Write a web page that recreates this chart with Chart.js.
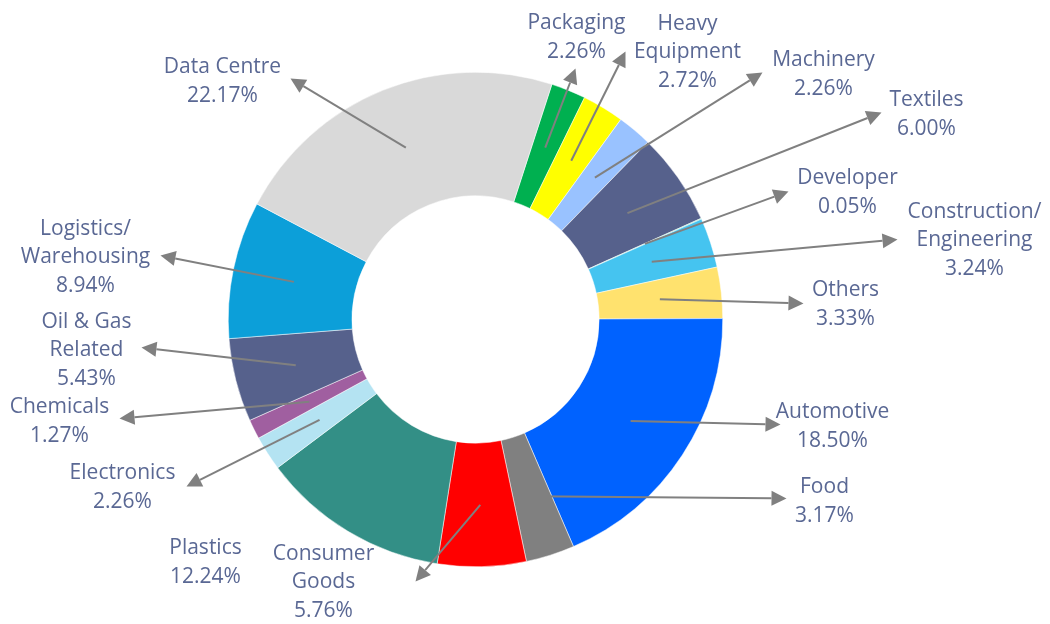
<!DOCTYPE html>
<html>
<head>
<meta charset="utf-8">
<script src="https://cdn.jsdelivr.net/npm/chart.js@4.4.1/dist/chart.umd.min.js"></script>
<style>
  html, body { margin: 0; padding: 0; background: #fff; }
</style>
</head>
<body>
<canvas id="chart" width="1050" height="624"></canvas>
<script>
// data (clockwise from the top)
const categories = ["Packaging", "Heavy Equipment", "Machinery", "Textiles", "Developer",
  "Construction/Engineering", "Others", "Automotive", "Food", "Consumer Goods", "Plastics",
  "Electronics", "Chemicals", "Oil & Gas Related", "Logistics/Warehousing", "Data Centre"];
const shares = [2.26, 2.72, 2.26, 6.00, 0.05, 3.24, 3.33, 18.50, 3.17, 5.76, 12.24,
  2.26, 1.27, 5.43, 8.94, 22.17];

const colours = ["#00b050", "#ffff00", "#99c2ff", "#56618c", "#7fd6a0", "#45c4f0", "#ffe26e",
  "#0062ff", "#808080", "#ff0000", "#338f86", "#b4e3f2", "#a05fa0", "#56618c", "#0c9fd9", "#d9d9d9"];

// label block centre and arrow tip, as offsets from the doughnut centre
const labelPos = [[101, -282], [212, -267], [348, -245], [451, -205], [372, -127],
  [499, -79], [370, -15], [357, 107], [349, 182], [-152, 263], [-270, 243],
  [-353, 168], [-416, 102], [-389, 31], [-390, -62], [-253, -238]];
const arrowTip = [[100, -251], [150, -268], [287, -247], [406, -207], [313, -128],
  [422, -80], [328, -16], [305, 105], [311, 179], [-60, 262], null,
  [-289, 167], [-356, 99], [-334, 28], [-315, -64], [-185, -241]];

const TEXT = "#5a6894";
const LINE = "#808080";
const FONT = '21px "Open Sans"';
const LINE_H = 28.5;

function wrapLabel(ctx, text, maxW) {
  const tokens = [];
  text.split(" ").forEach((w, wi) => {
    w.split(/(?<=\/)/).forEach((p, pi) => tokens.push({ t: p, sep: (pi === 0 && wi > 0) ? " " : "" }));
  });
  const lines = [];
  let line = "";
  tokens.forEach(tok => {
    const cand = line ? line + tok.sep + tok.t : tok.t;
    if (line && ctx.measureText(cand).width > maxW) {
      lines.push(line);
      line = tok.t;
    } else {
      line = cand;
    }
  });
  lines.push(line);
  return lines;
}

const calloutPlugin = {
  id: "callouts",
  afterDatasetsDraw(chart) {
    const ctx = chart.ctx;
    const meta = chart.getDatasetMeta(0);
    ctx.save();
    ctx.font = FONT;
    meta.data.forEach((arc, i) => {
      const p = arc.getProps(["x", "y", "startAngle", "endAngle", "innerRadius", "outerRadius"], true);
      const cx = p.x, cy = p.y;

      // leader line with arrow head pointing at the label
      if (arrowTip[i]) {
        const mid = (p.startAngle + p.endAngle) / 2;
        const r = (p.innerRadius + p.outerRadius) / 2;
        const sx = cx + r * Math.cos(mid), sy = cy + r * Math.sin(mid);
        const tx = cx + arrowTip[i][0], ty = cy + arrowTip[i][1];
        const ang = Math.atan2(ty - sy, tx - sx);
        const headL = 15, headW = 7.5;
        const bx = tx - headL * Math.cos(ang), by = ty - headL * Math.sin(ang);
        ctx.strokeStyle = LINE;
        ctx.fillStyle = LINE;
        ctx.lineWidth = 2;
        ctx.beginPath();
        ctx.moveTo(sx, sy);
        ctx.lineTo(bx, by);
        ctx.stroke();
        ctx.beginPath();
        ctx.moveTo(tx, ty);
        ctx.lineTo(bx + headW * Math.sin(ang), by - headW * Math.cos(ang));
        ctx.lineTo(bx - headW * Math.sin(ang), by + headW * Math.cos(ang));
        ctx.closePath();
        ctx.fill();
      }

      // label text
      const pct = shares[i].toFixed(2) + "%";
      const lines = wrapLabel(ctx, categories[i], 130).concat([pct]);
      const lx = cx + labelPos[i][0];
      const ly0 = cy + labelPos[i][1] - (lines.length - 1) * LINE_H / 2;
      ctx.fillStyle = TEXT;
      ctx.textAlign = "center";
      ctx.textBaseline = "middle";
      lines.forEach((ln, k) => ctx.fillText(ln, lx, ly0 + k * LINE_H));
    });
    ctx.restore();
  }
};

new Chart(document.getElementById("chart").getContext("2d"), {
  type: "doughnut",
  data: {
    labels: categories,
    datasets: [{
      data: shares,
      backgroundColor: colours,
      borderColor: "#ffffff",
      borderWidth: 0.5
    }]
  },
  options: {
    responsive: false,
    animation: false,
    rotation: 18,
    cutout: "50%",
    layout: { padding: { top: 72, bottom: 57, left: 228, right: 327 } },
    plugins: {
      legend: { display: false },
      tooltip: { enabled: false }
    }
  },
  plugins: [calloutPlugin]
});
</script>
</body>
</html>
